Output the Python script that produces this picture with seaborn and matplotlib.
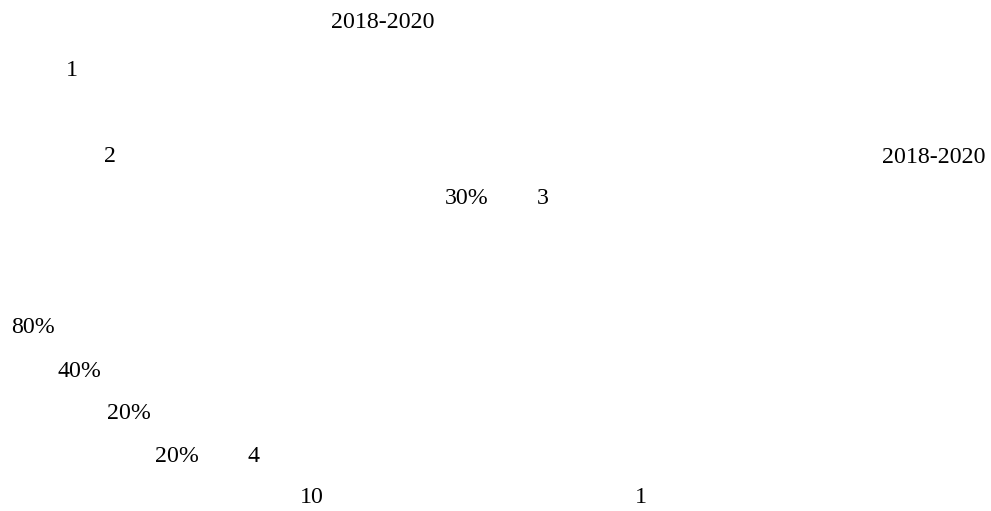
import seaborn as sns
import matplotlib
matplotlib.use("Agg")
import matplotlib.pyplot as plt

# text fragments as they appear on the page
labels = ["2018-2020", "1", "2", "2018-2020", "30%", "3",
          "80%", "40%", "20%", "20%", "4", "10", "1"]

# layout: left x and baseline y in pixels
pos_x = [331, 66, 104, 882, 445, 537, 11, 58, 107, 155, 247, 300, 635]
pos_y = [28, 76, 162, 163, 204, 204, 333, 377, 419, 462, 462, 503, 503]

sns.set_theme(style="white")
plt.rcParams['font.family'] = ['Liberation Serif', 'DejaVu Serif']

fig = plt.figure(figsize=(9.91, 5.11), dpi=100)
ax = fig.add_axes([0, 0, 1, 1])
ax.set_xlim(0, 991)
ax.set_ylim(511, 0)
ax.axis("off")

for lab, x, y in zip(labels, pos_x, pos_y):
    ax.text(x, y, lab, fontsize=17.2, color="black", ha="left", va="baseline")

fig.savefig("out.png", dpi=100, facecolor="white")
